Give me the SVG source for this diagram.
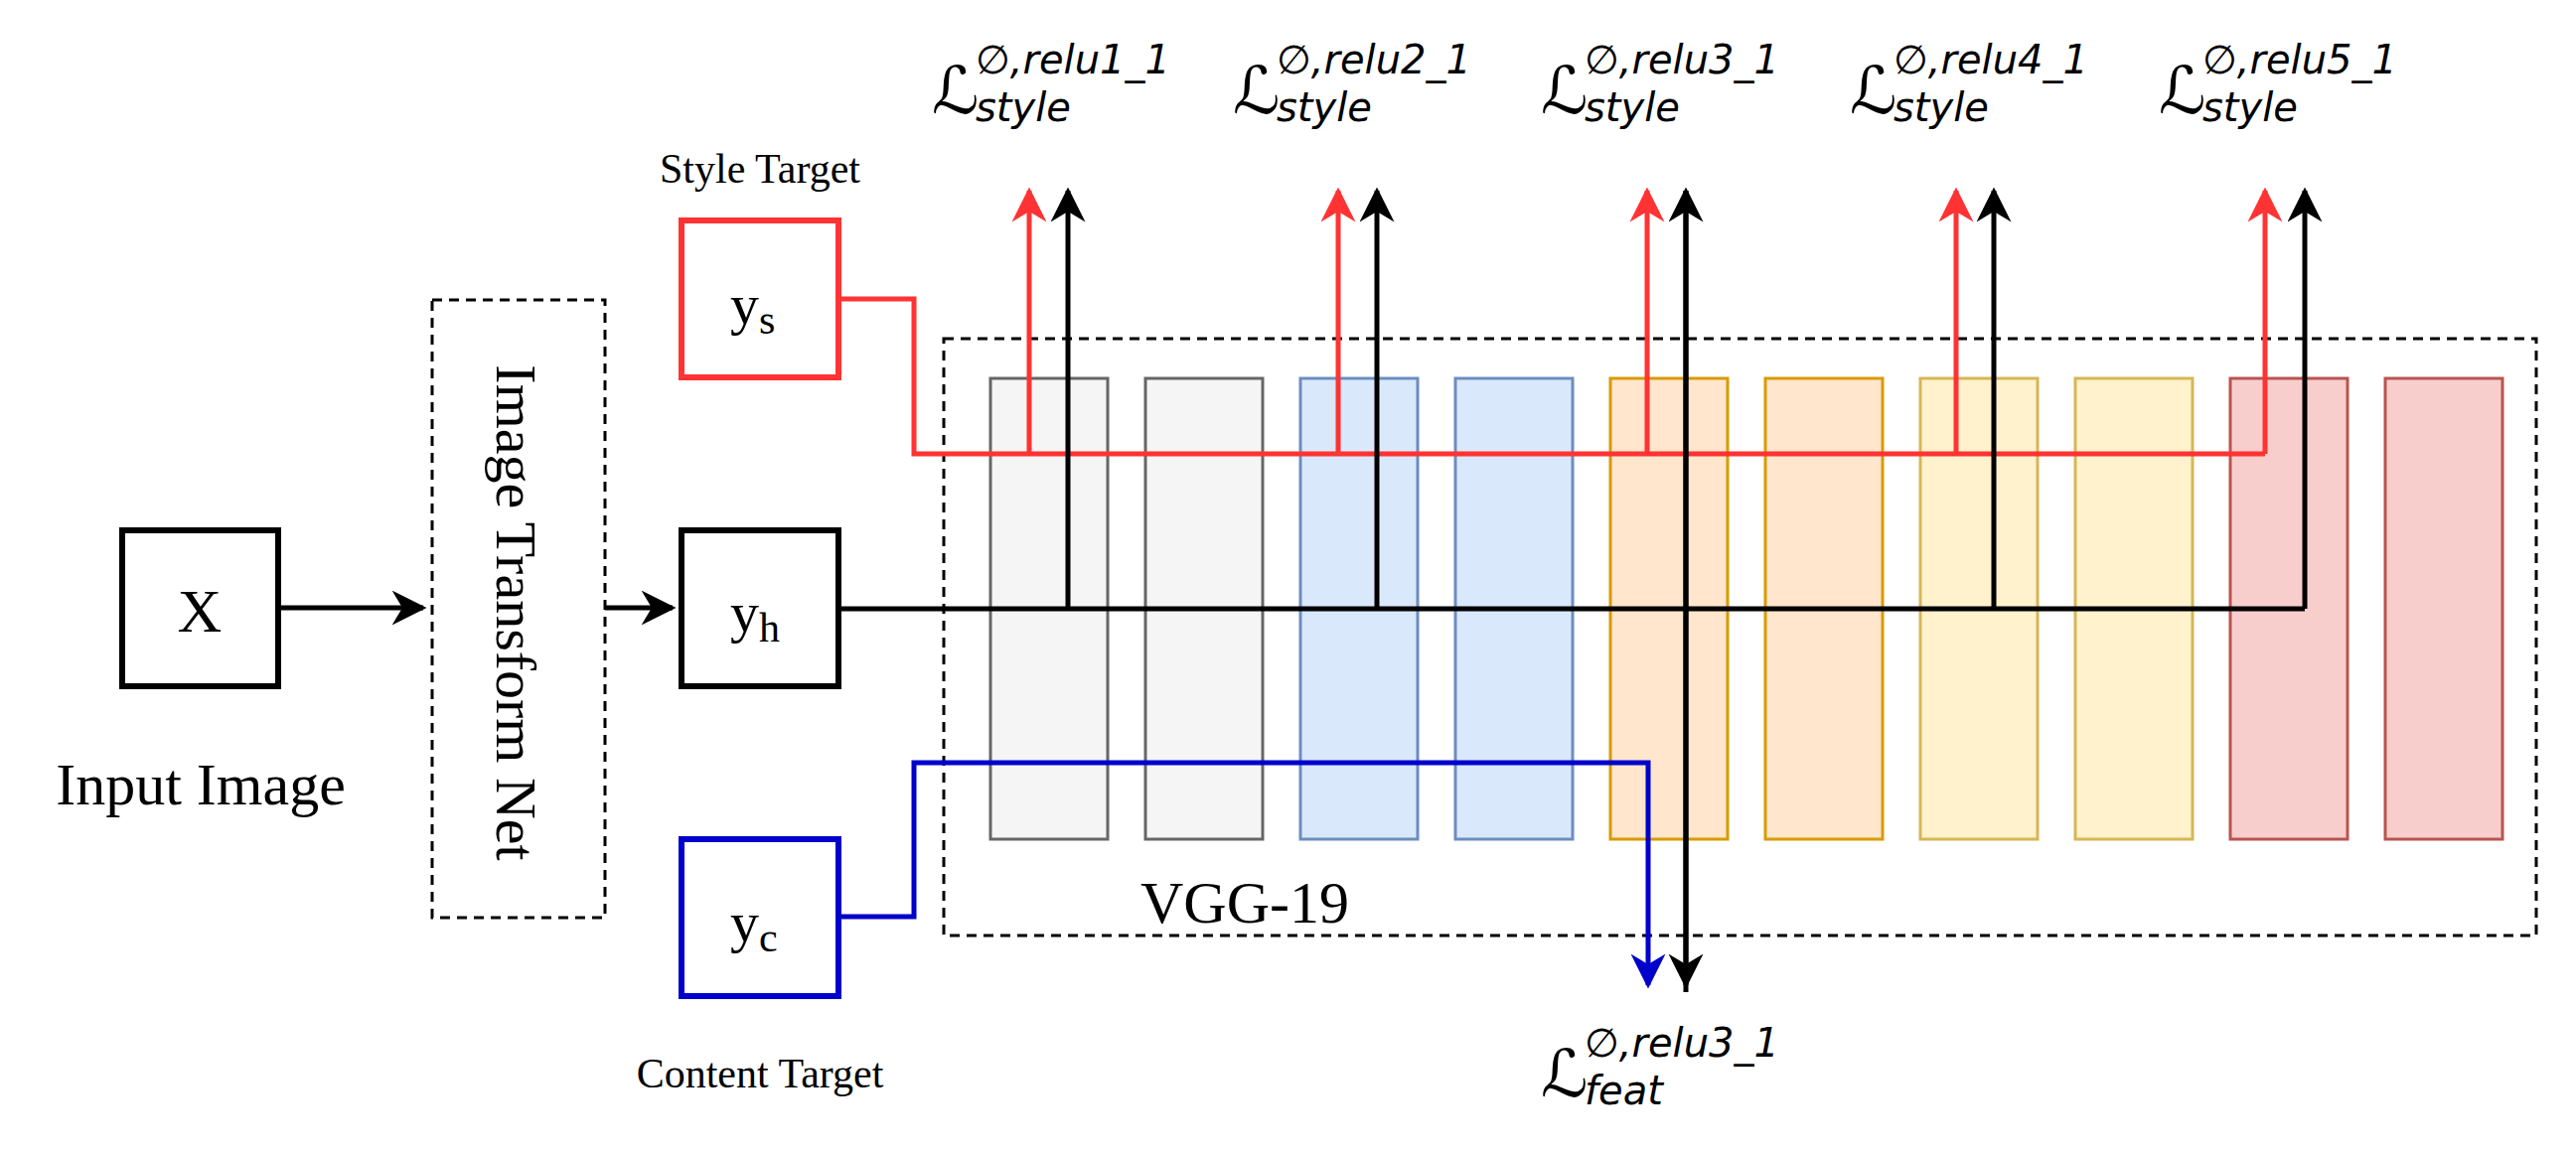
<svg xmlns="http://www.w3.org/2000/svg" width="2593" height="1161" viewBox="0 0 2593 1161">
<style>
.t{font-family:"Liberation Serif",serif;fill:#000}
.m{font-family:"DejaVu Sans","Noto Sans",sans-serif;font-style:italic;fill:#000}
.box{fill:#fff;stroke-width:6}
.dash{fill:none;stroke:#000;stroke-width:3;stroke-dasharray:10 7}
.ln{fill:none;stroke-width:5}
</style>
<defs>
<marker id="ak" viewBox="0 0 10 10" refX="9" refY="5" markerWidth="7" markerHeight="7" orient="auto" markerUnits="strokeWidth"><path d="M0,0 L10,5 L0,10 L3,5 z" fill="#000"/></marker>
<marker id="ar" viewBox="0 0 10 10" refX="9" refY="5" markerWidth="7" markerHeight="7" orient="auto" markerUnits="strokeWidth"><path d="M0,0 L10,5 L0,10 L3,5 z" fill="#FF3333"/></marker>
<marker id="ab" viewBox="0 0 10 10" refX="9" refY="5" markerWidth="7" markerHeight="7" orient="auto" markerUnits="strokeWidth"><path d="M0,0 L10,5 L0,10 L3,5 z" fill="#0000CC"/></marker>
</defs>
<rect width="2593" height="1161" fill="#fff"/>
<g id="vgg">
<rect class="dash" x="950" y="341" width="1603" height="601"/>
<text class="t" x="1148" y="929" font-size="60">VGG-19</text>
</g>
<g id="blocks" stroke-width="3">
<rect x="997" y="381" width="118" height="464" fill="#f5f5f5" stroke="#666"/>
<rect x="1153" y="381" width="118" height="464" fill="#f5f5f5" stroke="#666"/>
<rect x="1309" y="381" width="118" height="464" fill="#dae8fc" stroke="#6c8ebf"/>
<rect x="1465" y="381" width="118" height="464" fill="#dae8fc" stroke="#6c8ebf"/>
<rect x="1621" y="381" width="118" height="464" fill="#ffe6cc" stroke="#d79b00"/>
<rect x="1777" y="381" width="118" height="464" fill="#ffe6cc" stroke="#d79b00"/>
<rect x="1933" y="381" width="118" height="464" fill="#fff2cc" stroke="#d6b656"/>
<rect x="2089" y="381" width="118" height="464" fill="#fff2cc" stroke="#d6b656"/>
<rect x="2245" y="381" width="118" height="464" fill="#f8cecc" stroke="#b85450"/>
<rect x="2401" y="381" width="118" height="464" fill="#f8cecc" stroke="#b85450"/>
</g>
<g id="x"><rect class="box" x="123" y="534" width="157" height="157" stroke="#000"/><text class="t" x="201" y="636" font-size="62" text-anchor="middle">X</text></g>
<text class="t" x="202" y="810" font-size="60" text-anchor="middle">Input Image</text>
<g id="itn"><rect class="dash" x="435" y="302" width="174" height="622"/><text class="t" transform="translate(500,617) rotate(90)" font-size="58" text-anchor="middle">Image Transform Net</text></g>
<g id="ys"><rect class="box" x="686" y="222" width="158" height="158" stroke="#FF3333"/><text class="t" x="735" y="326" font-size="58">y<tspan font-size="42" dy="10">s</tspan></text></g>
<text class="t" x="765" y="184" font-size="42" text-anchor="middle">Style Target</text>
<g id="yh"><rect class="box" x="686" y="534" width="158" height="157" stroke="#000"/><text class="t" x="735" y="636" font-size="58">y<tspan font-size="42" dy="10">h</tspan></text></g>
<g id="yc"><rect class="box" x="686" y="845" width="158" height="158" stroke="#0000CC"/><text class="t" x="735" y="948" font-size="58">y<tspan font-size="42" dy="10">c</tspan></text></g>
<text class="t" x="765" y="1095" font-size="42" text-anchor="middle">Content Target</text>
<g id="connectors">
<path class="ln" stroke="#000" d="M281,612 H426" marker-end="url(#ak)"/>
<path class="ln" stroke="#000" d="M609,612 H677" marker-end="url(#ak)"/>
<path class="ln" stroke="#FF3333" d="M844,301 H920 V457 H2280"/>
<path class="ln" stroke="#000" d="M844,613 H2320"/>
<path class="ln" stroke="#0000CC" d="M844,923 H920 V768 H1659 V992" marker-end="url(#ab)"/>
<path class="ln" stroke="#FF3333" d="M1036,457 V192" marker-end="url(#ar)"/>
<path class="ln" stroke="#FF3333" d="M1347,457 V192" marker-end="url(#ar)"/>
<path class="ln" stroke="#FF3333" d="M1658,457 V192" marker-end="url(#ar)"/>
<path class="ln" stroke="#FF3333" d="M1969,457 V192" marker-end="url(#ar)"/>
<path class="ln" stroke="#FF3333" d="M2280,457 V192" marker-end="url(#ar)"/>
<path class="ln" stroke="#000" d="M1075,613 V192" marker-end="url(#ak)"/>
<path class="ln" stroke="#000" d="M1386,613 V192" marker-end="url(#ak)"/>
<path class="ln" stroke="#000" d="M2007,613 V192" marker-end="url(#ak)"/>
<path class="ln" stroke="#000" d="M2320,613 V192" marker-end="url(#ak)"/>
<path class="ln" stroke="#000" d="M1697,999 V192" marker-end="url(#ak)"/>
<path class="ln" stroke="#000" d="M1697,192 V992" marker-end="url(#ak)"/>
</g>
<g id="labels">
<text class="m" x="938" y="114" font-size="66">ℒ</text><text class="m" x="982" y="74" font-size="40">∅,relu1_1</text><text class="m" x="982" y="122" font-size="40">style</text>
<text class="m" x="1241" y="114" font-size="66">ℒ</text><text class="m" x="1285" y="74" font-size="40">∅,relu2_1</text><text class="m" x="1285" y="122" font-size="40">style</text>
<text class="m" x="1551" y="114" font-size="66">ℒ</text><text class="m" x="1595" y="74" font-size="40">∅,relu3_1</text><text class="m" x="1595" y="122" font-size="40">style</text>
<text class="m" x="1862" y="114" font-size="66">ℒ</text><text class="m" x="1906" y="74" font-size="40">∅,relu4_1</text><text class="m" x="1906" y="122" font-size="40">style</text>
<text class="m" x="2173" y="114" font-size="66">ℒ</text><text class="m" x="2217" y="74" font-size="40">∅,relu5_1</text><text class="m" x="2217" y="122" font-size="40">style</text>
<text class="m" x="1551" y="1104" font-size="66">ℒ</text><text class="m" x="1595" y="1064" font-size="40">∅,relu3_1</text><text class="m" x="1595" y="1112" font-size="40">feat</text>
</g>
</svg>
